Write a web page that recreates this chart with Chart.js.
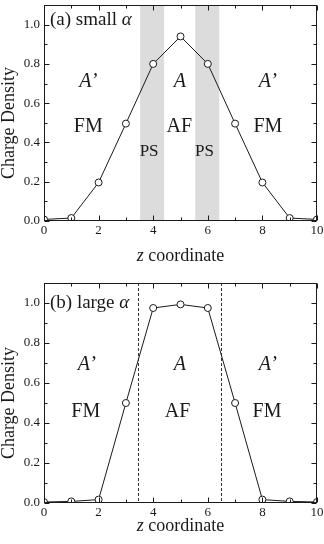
<!DOCTYPE html>
<html>
<head>
<meta charset="utf-8">
<script src="https://cdn.jsdelivr.net/npm/chart.js@4.4.1/dist/chart.umd.min.js"></script>
<style>
  html, body { margin: 0; padding: 0; background: #fff; }
  #wrap { position: relative; width: 324px; height: 544px; }
  #wrap canvas { position: absolute; left: 0; top: 0; }
</style>
</head>
<body>
<div id="wrap">
  <canvas id="small" width="324" height="544"></canvas>
  <canvas id="large" width="324" height="544"></canvas>
</div>
<script>
const zCoords = [0, 1, 2, 3, 4, 5, 6, 7, 8, 9, 10];
const densitySmall = [0.008, 0.015, 0.196, 0.496, 0.8, 0.94, 0.8, 0.496, 0.196, 0.015, 0.008];
const densityLarge = [0.005, 0.008, 0.017, 0.5, 0.975, 0.993, 0.975, 0.5, 0.017, 0.008, 0.005];
const psBands = [[3.52, 4.4], [5.54, 6.42]];
const boundaryLines = [3.43, 6.5];

const SERIF = "'Liberation Serif', 'Times New Roman', serif";
const INK = "#1a1a1a";

// draws frame, inward ticks on all sides, shaded bands, dashed lines and text
const framePlugin = {
  id: "frame",
  beforeDatasetsDraw(chart, args, opts) {
    const { ctx, chartArea: { top, bottom }, scales: { x } } = chart;
    ctx.save();
    ctx.fillStyle = "#dcdcdc";
    (opts.bands || []).forEach(([from, to]) => {
      const x0 = x.getPixelForValue(from);
      const x1 = x.getPixelForValue(to);
      ctx.fillRect(x0, top, x1 - x0, bottom - top);
    });
    ctx.strokeStyle = "#333";
    ctx.lineWidth = 1;
    ctx.setLineDash([3, 2]);
    (opts.lines || []).forEach((v) => {
      const px = Math.round(x.getPixelForValue(v)) + 0.5;
      ctx.beginPath();
      ctx.moveTo(px, top);
      ctx.lineTo(px, bottom);
      ctx.stroke();
    });
    ctx.restore();
  },
  afterDraw(chart, args, opts) {
    const { ctx, chartArea: { left, right, top, bottom }, scales: { x, y } } = chart;
    ctx.save();
    ctx.strokeStyle = INK;
    ctx.lineWidth = 1;
    const L = Math.round(left) + 0.5, R = Math.round(right) - 0.5;
    const T = Math.round(top) + 0.5, B = Math.round(bottom) - 0.5;
    ctx.strokeRect(L, T, R - L, B - T);

    const withMinor = (scale) => {
      const vals = scale.ticks.map(({ value }) => value);
      const out = vals.map((v) => ({ v, len: 5 }));
      for (let i = 0; i < vals.length; i++) {
        const step = i + 1 < vals.length ? vals[i + 1] - vals[i] : vals[i] - vals[i - 1];
        const mid = vals[i] + step / 2;
        if (mid < scale.max + 1e-9) out.push({ v: mid, len: 3 });
      }
      return out;
    };

    ctx.beginPath();
    withMinor(x).forEach(({ v, len }) => {
      const px = Math.round(x.getPixelForValue(v)) + 0.5;
      ctx.moveTo(px, B); ctx.lineTo(px, B - len);
      ctx.moveTo(px, T); ctx.lineTo(px, T + len);
    });
    withMinor(y).forEach(({ v, len }) => {
      const py = Math.round(y.getPixelForValue(v)) + 0.5;
      ctx.moveTo(L, py); ctx.lineTo(L + len, py);
      ctx.moveTo(R, py); ctx.lineTo(R - len, py);
    });
    ctx.stroke();

    const drawParts = (parts, px, py, size, align) => {
      const fonts = parts.map(({ italic }) => (italic ? "italic " : "") + size + "px " + SERIF);
      const widths = parts.map(({ text }, i) => { ctx.font = fonts[i]; return ctx.measureText(text).width; });
      const total = widths.reduce((a, b) => a + b, 0);
      let cx = align === "left" ? px : px - total / 2;
      ctx.textAlign = "left";
      ctx.textBaseline = "middle";
      ctx.fillStyle = INK;
      parts.forEach(({ text }, i) => {
        ctx.font = fonts[i];
        ctx.fillText(text, cx, py);
        cx += widths[i];
      });
    };

    (opts.texts || []).forEach(({ parts, z, v, size, align }) => {
      drawParts(parts, x.getPixelForValue(z), y.getPixelForValue(v), size, align);
    });

    // axis titles
    drawParts([{ text: "z", italic: true }, { text: " coordinate" }], (left + right) / 2, bottom + opts.xTitleOffset, 18);
    ctx.translate(9, (top + bottom) / 2 + 10);
    ctx.rotate(-Math.PI / 2);
    drawParts([{ text: "Charge Density" }], 0, 0, 18);
    ctx.restore();
  },
};

const tickFont = { family: SERIF, size: 13 };

function makeChart(id, values, padding, frame) {
  return new Chart(document.getElementById(id), {
    type: "line",
    data: {
      datasets: [
        {
          data: values.map((v, i) => ({ x: zCoords[i], y: v })),
          borderColor: INK,
          borderWidth: 1,
          pointRadius: 3.5,
          pointBackgroundColor: "#fff",
          pointBorderColor: INK,
          pointBorderWidth: 1,
          tension: 0,
          clip: 0,
        },
      ],
    },
    options: {
      responsive: false,
      animation: false,
      devicePixelRatio: 1,
      events: [],
      layout: { padding },
      plugins: { legend: { display: false }, tooltip: { enabled: false }, frame },
      scales: {
        x: {
          type: "linear",
          min: 0,
          max: 10,
          ticks: { stepSize: 2, padding: 2, font: tickFont, color: INK, maxRotation: 0 },
          grid: { display: false, drawTicks: false },
          border: { display: false },
          afterFit: (s) => { s.height = 20; s.paddingLeft = 0; s.paddingRight = 0; },
        },
        y: {
          min: 0,
          max: 1.1,
          ticks: { stepSize: 0.2, includeBounds: false, padding: 4, font: tickFont, color: INK, callback: (v) => v.toFixed(1) },
          grid: { display: false, drawTicks: false },
          border: { display: false },
          afterFit: (s) => { s.width = 44; s.paddingTop = 0; s.paddingBottom = 0; },
        },
      },
    },
    plugins: [framePlugin],
  });
}

const regionText = (t, italic, z, v, size) => ({ parts: [{ text: t, italic }], z, v, size });

makeChart("small", densitySmall, { top: 3, right: 7, bottom: 303, left: 0 }, {
  bands: psBands,
  xTitleOffset: 35,
  texts: [
    { parts: [{ text: "(a) small " }, { text: "α", italic: true }], z: 0.22, v: 1.025, size: 19, align: "left" },
    regionText("A’", true, 1.62, 0.71, 20),
    regionText("A", true, 4.98, 0.71, 20),
    regionText("A’", true, 8.2, 0.71, 20),
    regionText("FM", false, 1.62, 0.48, 20),
    regionText("AF", false, 4.96, 0.48, 20),
    regionText("FM", false, 8.2, 0.48, 20),
    regionText("PS", false, 3.85, 0.353, 17),
    regionText("PS", false, 5.88, 0.353, 17),
  ],
});

makeChart("large", densityLarge, { top: 283, right: 7, bottom: 21, left: 0 }, {
  lines: boundaryLines,
  xTitleOffset: 23,
  texts: [
    { parts: [{ text: "(b) large " }, { text: "α", italic: true }], z: 0.22, v: 1.0, size: 19, align: "left" },
    regionText("A’", true, 1.57, 0.69, 20),
    regionText("A", true, 4.98, 0.69, 20),
    regionText("A’", true, 8.2, 0.69, 20),
    regionText("FM", false, 1.53, 0.454, 20),
    regionText("AF", false, 4.89, 0.454, 20),
    regionText("FM", false, 8.17, 0.454, 20),
  ],
});
</script>
</body>
</html>
